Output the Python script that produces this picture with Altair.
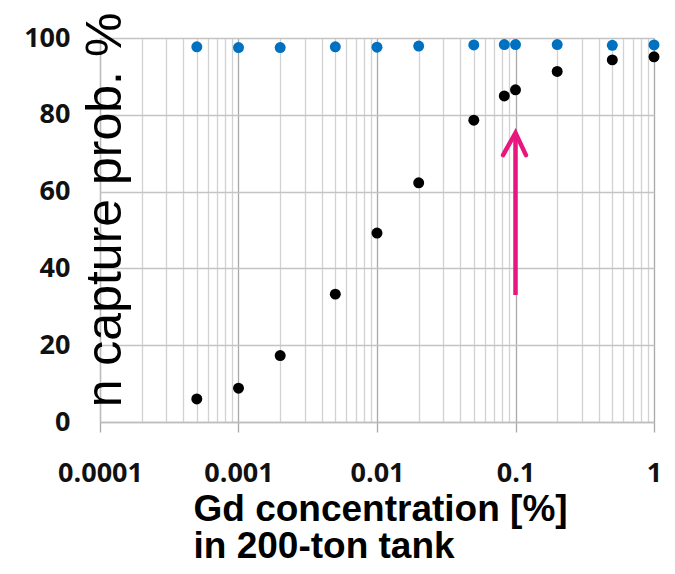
import json
import altair as alt
import pandas as pd

# ---- data ----
gd_conc = [0.0005, 0.001, 0.002, 0.005, 0.01, 0.02, 0.05, 0.083, 0.1, 0.2, 0.5, 1.0]
capture_gd = [6.0, 8.8, 17.3, 33.3, 49.2, 62.3, 78.6, 84.9, 86.5, 91.3, 94.3, 95.1]
capture_all = [97.7, 97.5, 97.5, 97.7, 97.6, 97.9, 98.2, 98.3, 98.3, 98.3, 98.1, 98.2]

x_major = [0.0001, 0.001, 0.01, 0.1, 1]
x_tick_labels = ["0.0001", "0.001", "0.01", "0.1", "1"]
y_ticks = [0, 20, 40, 60, 80, 100]

# annotation arrow (data coordinates)
arrow_x = 0.1
arrow_y_start = 33.1
arrow_y_tip = 75.3
arrow_wing_x = [0.0813, 0.1, 0.119]
arrow_wing_y = [69.5, 75.3, 69.5]

# minor log grid positions
x_ticks = []
for k in range(-4, 0):
    for m in range(1, 10):
        x_ticks.append(round(m * 10 ** k, 10))
x_ticks.append(1)

pts = pd.DataFrame(
    {
        "x": gd_conc * 2,
        "y": capture_gd + capture_all,
        "s": ["Gd"] * len(gd_conc) + ["all"] * len(gd_conc),
    }
)
shaft = pd.DataFrame({"x": [arrow_x], "y": [arrow_y_start], "y2": [arrow_y_tip]})
wings = pd.DataFrame({"x": arrow_wing_x, "y": arrow_wing_y, "o": [0, 1, 2]})

major_js = json.dumps(x_major)
labels_js = json.dumps(x_tick_labels)
is_major = f"indexof({major_js}, datum.value) >= 0"
label_expr = f"{is_major} ? {labels_js}[indexof({major_js}, datum.value)] : ''"

LABEL_FONT = "Open Sans"
xscale = alt.Scale(type="log", domain=[0.0001, 1], nice=False)
yscale = alt.Scale(domain=[0, 100], nice=False)

xaxis = alt.Axis(
    values=x_ticks,
    labelExpr=label_expr,
    grid=True,
    gridColor={"condition": {"test": is_major, "value": "#a8a8a8"}, "value": "#d2d2d2"},
    gridWidth=1.3,
    tickColor={"condition": {"test": is_major, "value": "#a8a8a8"}, "value": "transparent"},
    tickSize=10,
    tickWidth=1.3,
    domainColor="#bdbdbd",
    domainWidth=1.3,
    labelFont=LABEL_FONT,
    labelFontWeight="bold",
    labelFontSize=27,
    labelColor="#111111",
    labelPadding=28,
    labelFlush=False,
    labelOverlap=False,
    title=["Gd concentration [%]", "in 200-ton tank"],
    titleFont="Liberation Sans",
    titleFontWeight="bold",
    titleFontSize=37,
    titleColor="#000000",
    titleAlign="left",
    titleAnchor="start",
    titleX=93,
    titleY=98,
    titleBaseline="alphabetic",
    titleLineHeight=37,
)
yaxis = alt.Axis(
    values=y_ticks,
    grid=True,
    gridColor="#c4c4c4",
    gridWidth=1.3,
    ticks=False,
    domainColor="#bdbdbd",
    domainWidth=1.3,
    labelFont=LABEL_FONT,
    labelFontWeight="bold",
    labelFontSize=27,
    labelColor="#111111",
    labelPadding=30,
    labelBaseline="middle",
    title="n capture prob. %",
    titleFont="Liberation Sans",
    titleFontWeight="normal",
    titleFontSize=50,
    titleColor="#000000",
    titleAngle=270,
    titleAlign="center",
    titleBaseline="alphabetic",
    titleX=20,
    titleY=171.5,
)

points = alt.Chart(pts).mark_circle(size=120, opacity=1).encode(
    x=alt.X("x:Q", scale=xscale, axis=xaxis),
    y=alt.Y("y:Q", scale=yscale, axis=yaxis),
    color=alt.Color(
        "s:N",
        scale=alt.Scale(domain=["Gd", "all"], range=["#000000", "#0070c0"]),
        legend=None,
    ),
)

shaft_layer = alt.Chart(shaft).mark_rule(color="#e8177f", strokeWidth=4.5).encode(
    x=alt.X("x:Q", scale=xscale, axis=xaxis),
    y=alt.Y("y:Q", scale=yscale, axis=yaxis),
    y2="y2:Q",
)
wing_layer = alt.Chart(wings).mark_line(
    color="#e8177f", strokeWidth=4.5, strokeJoin="miter", strokeCap="round"
).encode(
    x=alt.X("x:Q", scale=xscale, axis=xaxis),
    y=alt.Y("y:Q", scale=yscale, axis=yaxis),
    order="o:Q",
)

chart = (
    alt.layer(points, shaft_layer, wing_layer)
    .properties(
        width=554,
        height=384,
        autosize=alt.AutoSizeParams(type="none"),
        padding={"left": 92, "top": 30, "right": 13, "bottom": 144},
    )
    .configure_view(stroke=None)
    .configure(background="white")
)

chart.save("out.html", embed_options={"renderer": "svg", "actions": False})
